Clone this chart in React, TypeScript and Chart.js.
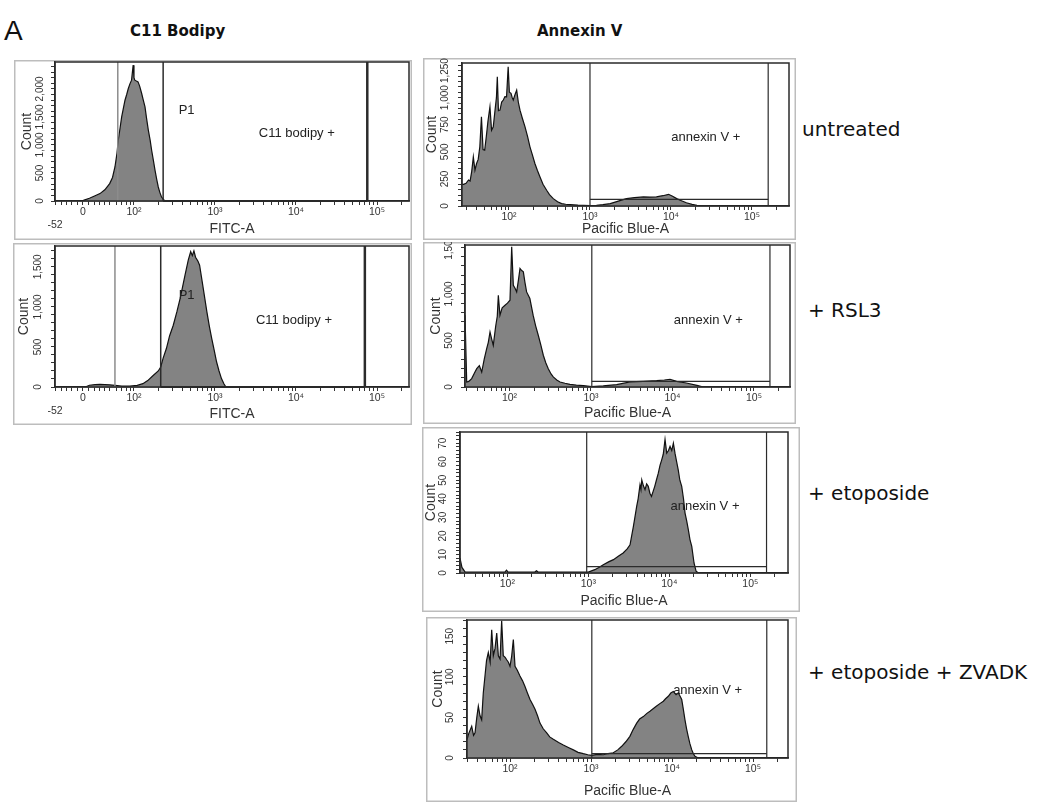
import React, { useEffect, useRef } from 'react';
import { Chart, registerables } from 'chart.js';

Chart.register(...registerables);

const FONT = '"Liberation Sans", Arial, Helvetica, sans-serif';
const LABEL_FONT = '"DejaVu Sans", Verdana, sans-serif';

// ---------- data: x = display position in decades (10^x), y = count ----------
const c11UntreatedPos = [1.025, 1.30, 1.375, 1.45, 1.52, 1.58, 1.64, 1.70, 1.735, 1.765, 1.79, 1.806, 1.83, 1.848, 1.87, 1.889, 1.91, 1.93, 1.95, 1.97, 1.99, 2.00, 2.01, 2.03, 2.05, 2.07, 2.095, 2.115, 2.136, 2.155, 2.177, 2.20, 2.218, 2.24, 2.26, 2.28, 2.30, 2.32, 2.34, 2.38, 2.45, 5.395];
const c11UntreatedCount = [0, 0, 12, 50, 95, 132, 200, 310, 420, 607, 850, 1084, 1320, 1500, 1660, 1798, 1900, 2007, 2090, 2156, 2424, 2200, 2156, 2140, 2125, 2050, 1918, 1800, 1679, 1480, 1263, 1080, 905, 720, 548, 390, 250, 150, 71, 0, 0, 0];

const c11Rsl3Pos = [1.025, 1.40, 1.45, 1.52, 1.58, 1.64, 1.70, 1.765, 1.85, 1.95, 2.04, 2.11, 2.17, 2.24, 2.30, 2.33, 2.36, 2.40, 2.44, 2.485, 2.53, 2.57, 2.60, 2.63, 2.67, 2.70, 2.72, 2.74, 2.76, 2.79, 2.81, 2.855, 2.90, 2.93, 2.96, 2.99, 3.02, 3.05, 3.08, 3.11, 3.135, 5.395];
const c11Rsl3Count = [0, 0, 22, 30, 32, 30, 27, 20, 10, 12, 20, 42, 80, 146, 200, 250, 360, 480, 640, 771, 940, 1105, 1250, 1396, 1584, 1690, 1640, 1700, 1620, 1570, 1521, 1230, 938, 760, 605, 460, 312, 200, 105, 40, 0, 0];

const annexinUntreatedPos = [1.42, 1.44, 1.47, 1.50, 1.52, 1.54, 1.56, 1.58, 1.60, 1.62, 1.64, 1.66, 1.68, 1.70, 1.72, 1.74, 1.765, 1.785, 1.806, 1.83, 1.845, 1.856, 1.87, 1.889, 1.91, 1.93, 1.95, 1.97, 1.99, 2.005, 2.025, 2.04, 2.053, 2.075, 2.095, 2.115, 2.136, 2.165, 2.198, 2.23, 2.259, 2.29, 2.32, 2.35, 2.383, 2.42, 2.465, 2.50, 2.547, 2.60, 2.65, 2.70, 2.753, 2.85, 2.92, 3.0, 3.08, 3.16, 3.25, 3.35, 3.45, 3.55, 3.66, 3.74, 3.82, 3.90, 3.97, 4.02, 4.07, 4.13, 4.19, 4.26, 4.32, 4.40, 5.457];
const annexinUntreatedCount = [200, 200, 210, 240, 230, 320, 453, 330, 392, 430, 546, 823, 520, 515, 640, 780, 916, 700, 731, 900, 1000, 1193, 880, 885, 960, 978, 1010, 1008, 1286, 1050, 1040, 1000, 978, 1030, 1070, 960, 885, 810, 731, 640, 546, 470, 392, 330, 268, 200, 145, 105, 68, 40, 22, 16, 13, 8, 6, 3, 6, 12, 22, 45, 68, 78, 84, 82, 84, 95, 108, 90, 68, 48, 30, 15, 6, 0, 0];

const annexinRsl3Pos = [1.454, 1.462, 1.475, 1.50, 1.536, 1.57, 1.598, 1.63, 1.659, 1.69, 1.72, 1.74, 1.761, 1.78, 1.801, 1.83, 1.85, 1.863, 1.883, 1.91, 1.945, 1.975, 2.006, 2.027, 2.047, 2.068, 2.088, 2.11, 2.129, 2.15, 2.17, 2.19, 2.21, 2.25, 2.29, 2.32, 2.353, 2.385, 2.415, 2.445, 2.476, 2.51, 2.537, 2.58, 2.62, 2.68, 2.742, 2.82, 2.906, 3.008, 3.15, 3.315, 3.48, 3.64, 3.806, 3.90, 3.97, 4.05, 4.17, 4.30, 4.38, 5.442];
const annexinRsl3Count = [771, 771, 54, 60, 90, 150, 197, 230, 161, 300, 412, 480, 591, 520, 448, 650, 760, 986, 771, 850, 878, 900, 932, 1505, 1093, 1060, 1021, 1150, 1273, 1250, 1237, 1120, 1021, 950, 771, 660, 556, 450, 341, 260, 197, 140, 108, 75, 54, 40, 29, 20, 15, 5, 12, 25, 54, 61, 68, 75, 83, 61, 43, 18, 0, 0];

const annexinEtoPos = [1.416, 1.425, 1.44, 1.48, 1.70, 1.97, 1.99, 2.01, 2.05, 2.34, 2.36, 2.38, 2.42, 2.8, 3.0, 3.08, 3.13, 3.185, 3.25, 3.31, 3.37, 3.43, 3.48, 3.515, 3.535, 3.556, 3.575, 3.597, 3.615, 3.638, 3.65, 3.66, 3.68, 3.70, 3.72, 3.74, 3.76, 3.78, 3.80, 3.82, 3.84, 3.864, 3.885, 3.906, 3.925, 3.947, 3.968, 3.99, 4.009, 4.03, 4.05, 4.07, 4.09, 4.11, 4.13, 4.153, 4.175, 4.194, 4.215, 4.235, 4.255, 4.277, 4.305, 4.33, 4.36, 5.465];
const annexinEtoCount = [8, 8, 3, 0.5, 0.5, 0.5, 1.5, 0.5, 0.5, 0.5, 1.2, 0.5, 0.5, 0.5, 0.5, 1.8, 3, 4.5, 6, 7.2, 9, 10.8, 13, 15.2, 20, 25, 30, 35.9, 40, 47.5, 45, 50.2, 47, 44.9, 48, 46.7, 43, 41.3, 44, 46.7, 50, 53.8, 58, 61, 64, 72, 64.6, 66, 68.2, 66, 70, 64.6, 60, 55.6, 50, 46.7, 40, 32.3, 28, 23.3, 18, 14.3, 5.4, 1, 0, 0];

const annexinEtoZvadPos = [1.469, 1.49, 1.527, 1.55, 1.568, 1.59, 1.609, 1.63, 1.65, 1.67, 1.691, 1.71, 1.732, 1.755, 1.774, 1.794, 1.815, 1.836, 1.856, 1.877, 1.897, 1.917, 1.94, 1.959, 1.98, 2.0, 2.02, 2.041, 2.062, 2.09, 2.123, 2.155, 2.185, 2.215, 2.247, 2.28, 2.309, 2.34, 2.37, 2.41, 2.453, 2.49, 2.535, 2.6, 2.658, 2.72, 2.782, 2.84, 2.905, 2.96, 3.008, 3.08, 3.152, 3.21, 3.275, 3.33, 3.379, 3.43, 3.48, 3.52, 3.564, 3.60, 3.646, 3.69, 3.728, 3.77, 3.81, 3.85, 3.893, 3.92, 3.954, 3.985, 4.016, 4.05, 4.078, 4.10, 4.12, 4.14, 4.16, 4.18, 4.2, 4.22, 4.243, 4.265, 4.284, 4.325, 5.432];
const annexinEtoZvadCount = [22.6, 30, 39, 28, 31, 50, 64, 52, 47, 80, 101, 120, 130, 118, 158, 126, 135, 154, 126, 122, 169, 126, 124, 121, 118, 113, 125, 146, 113, 108, 101, 95, 88, 80, 72, 66, 60, 52, 43, 36, 31, 26, 23, 19, 16, 13, 10, 7, 5.3, 4, 3.3, 4.5, 4, 5.5, 6.5, 10, 14.4, 20, 26.7, 35, 43, 48, 51, 55, 57.6, 61, 64, 67, 70, 73, 76, 80, 82, 78, 80, 76, 72, 60, 47, 36, 26.7, 18, 10.3, 5, 2, 0, 0];

// ---------- axis ticks ----------
const c11MajorPos = [1.025, 1.37, 2, 3, 4, 5];
const c11MajorLabels: (string | string[])[] = [['', '-52'], '0', '10²', '10³', '10⁴', '10⁵'];
const c11LinearMinorPos = [1.11, 1.17, 1.23, 1.30, 1.44, 1.51, 1.58, 1.64, 1.70];
const annexinMajorPos = [2, 3, 4, 5];
const annexinMajorLabels = ['10²', '10³', '10⁴', '10⁵'];
const logMinorMantissa = [2, 3, 4, 5, 6, 7, 8, 9];

const yTicksC11Untreated = [0, 500, 1000, 1500, 2000];
const yLabelsC11Untreated = ['0', '500', '1,000', '1,500', '2,000'];
const yTicksC11Rsl3 = [0, 500, 1000, 1500];
const yLabelsC11Rsl3 = ['0', '500', '1,000', '1,500'];
const yTicksAnxUntreated = [0, 250, 500, 750, 1000, 1250];
const yLabelsAnxUntreated = ['0', '250', '500', '750', '1,000', '1,250'];
const yTicksAnxRsl3 = [0, 500, 1000, 1500];
const yLabelsAnxRsl3 = ['0', '500', '1,000', '1,500'];
const yTicksAnxEto = [0, 10, 20, 30, 40, 50, 60, 70];
const yLabelsAnxEto = ['0', '10', '20', '30', '40', '50', '60', '70'];
const yTicksAnxEtoZvad = [0, 50, 100, 150];
const yLabelsAnxEtoZvad = ['0', '50', '100', '150'];

// ---------- gates ----------
type VLine = { x: number; color: string; w: number };
type HBar = { x0: number; x1: number; y: number; color: string; w: number };
type GText = { x: number; y: number; text: string };

const TICK_LEN = 4;

function measure(text: string, size: number) {
  const c = document.createElement('canvas').getContext('2d')!;
  c.font = `${size}px ${FONT}`;
  return c.measureText(text).width;
}

function buildXTicks(isC11: boolean, min: number, max: number) {
  const vals: number[] = [];
  const labels: (string | string[])[] = [];
  const majors = isC11 ? c11MajorPos : annexinMajorPos;
  const majorLabels = isC11 ? c11MajorLabels : annexinMajorLabels;
  majors.forEach((v, i) => { vals.push(v); labels.push(majorLabels[i]); });
  if (isC11) c11LinearMinorPos.forEach((v) => { vals.push(v); labels.push(''); });
  for (let k = 1; k <= 5; k++) {
    for (const m of logMinorMantissa) {
      const v = k + Math.log10(m);
      if (v > min && v < max && (!isC11 || v > 1.75)) { vals.push(v); labels.push(''); }
    }
  }
  const order = vals.map((_, i) => i).sort((a, b) => vals[a] - vals[b]);
  return { vals: order.map((i) => vals[i]), labels: order.map((i) => labels[i]) };
}

function buildYTicks(majors: number[], majorLabels: string[], minorStep: number, max: number) {
  const vals: number[] = [];
  const labels: string[] = [];
  for (let v = 0; v <= max + 1e-9; v += minorStep) {
    const r = Math.round(v * 1000) / 1000;
    const idx = majors.indexOf(r);
    vals.push(r);
    labels.push(idx >= 0 ? majorLabels[idx] : '');
  }
  return { vals, labels };
}

type Rect = { l: number; t: number; r: number; b: number };
type PanelCfg = {
  key: string;
  outer: Rect;
  plot: Rect;
  xMin: number;
  xMax: number;
  isC11: boolean;
  xTitle: string;
  yMax: number;
  yMajor: number[];
  yMajorLabels: string[];
  yMinorStep: number;
  pos: number[];
  count: number[];
  countX: number;
  yLabelOffset: number;
  vlines: VLine[];
  hbars: HBar[];
  texts: GText[];
};

const GATE = '#2b2b2b';
const PANELS: PanelCfg[] = [
  {
    key: 'c11-untreated', outer: { l: 14, t: 60, r: 412, b: 240 }, plot: { l: 55, t: 62, r: 409, b: 201 },
    xMin: 1.025, xMax: 5.395, isC11: true, xTitle: 'FITC-A', yMax: 2480,
    yMajor: yTicksC11Untreated, yMajorLabels: yLabelsC11Untreated, yMinorStep: 100,
    pos: c11UntreatedPos, count: c11UntreatedCount, countX: 27, yLabelOffset: 15,
    vlines: [{ x: 1.80, color: '#8c8c8c', w: 1.5 }, { x: 2.36, color: GATE, w: 1.5 }, { x: 4.88, color: GATE, w: 2.5 }],
    hbars: [{ x0: 2.36, x1: 4.88, y: 0, color: GATE, w: 2 }],
    texts: [{ x: 2.65, y: 1620, text: 'P1' }, { x: 4.01, y: 1209, text: 'C11 bodipy +' }],
  },
  {
    key: 'c11-rsl3', outer: { l: 13, t: 243, r: 412, b: 425 }, plot: { l: 55, t: 246, r: 409, b: 387 },
    xMin: 1.025, xMax: 5.395, isC11: true, xTitle: 'FITC-A', yMax: 1760,
    yMajor: yTicksC11Rsl3, yMajorLabels: yLabelsC11Rsl3, yMinorStep: 100,
    pos: c11Rsl3Pos, count: c11Rsl3Count, countX: 24, yLabelOffset: 17,
    vlines: [{ x: 1.765, color: '#8c8c8c', w: 1.5 }, { x: 2.33, color: GATE, w: 1.5 }, { x: 4.85, color: GATE, w: 2.5 }],
    hbars: [{ x0: 2.33, x1: 4.85, y: 0, color: GATE, w: 2 }],
    texts: [{ x: 2.65, y: 1146, text: 'P1' }, { x: 3.975, y: 834, text: 'C11 bodipy +' }],
  },
  {
    key: 'anx-untreated', outer: { l: 423, t: 58, r: 796, b: 240 }, plot: { l: 462, t: 63, r: 789, b: 206 },
    xMin: 1.42, xMax: 5.457, isC11: false, xTitle: 'Pacific Blue-A', yMax: 1320,
    yMajor: yTicksAnxUntreated, yMajorLabels: yLabelsAnxUntreated, yMinorStep: 50,
    pos: annexinUntreatedPos, count: annexinUntreatedCount, countX: 432, yLabelOffset: 17,
    vlines: [{ x: 3.0, color: GATE, w: 1.2 }, { x: 5.2, color: GATE, w: 1.2 }],
    hbars: [{ x0: 3.0, x1: 5.2, y: 62, color: GATE, w: 1.2 }],
    texts: [{ x: 4.43, y: 636, text: 'annexin V +' }],
  },
  {
    key: 'anx-rsl3', outer: { l: 423, t: 242, r: 796, b: 424 }, plot: { l: 465, t: 245, r: 790, b: 387 },
    xMin: 1.454, xMax: 5.442, isC11: false, xTitle: 'Pacific Blue-A', yMax: 1525,
    yMajor: yTicksAnxRsl3, yMajorLabels: yLabelsAnxRsl3, yMinorStep: 100,
    pos: annexinRsl3Pos, count: annexinRsl3Count, countX: 436, yLabelOffset: 16,
    vlines: [{ x: 3.01, color: GATE, w: 1.2 }, { x: 5.196, color: GATE, w: 1.2 }],
    hbars: [{ x0: 3.01, x1: 5.196, y: 61, color: GATE, w: 1.2 }],
    texts: [{ x: 4.44, y: 717, text: 'annexin V +' }],
  },
  {
    key: 'anx-eto', outer: { l: 422, t: 427, r: 800, b: 612 }, plot: { l: 460, t: 432, r: 788, b: 573 },
    xMin: 1.416, xMax: 5.465, isC11: false, xTitle: 'Pacific Blue-A', yMax: 76,
    yMajor: yTicksAnxEto, yMajorLabels: yLabelsAnxEto, yMinorStep: 2,
    pos: annexinEtoPos, count: annexinEtoCount, countX: 431, yLabelOffset: 17,
    vlines: [{ x: 2.98, color: GATE, w: 1.2 }, { x: 5.2, color: GATE, w: 1.2 }],
    hbars: [{ x0: 2.98, x1: 5.2, y: 3.4, color: GATE, w: 1.2 }],
    texts: [{ x: 4.44, y: 36, text: 'annexin V +' }],
  },
  {
    key: 'anx-eto-zvad', outer: { l: 426, t: 617, r: 797, b: 802 }, plot: { l: 467, t: 620, r: 788, b: 758 },
    xMin: 1.469, xMax: 5.432, isC11: false, xTitle: 'Pacific Blue-A', yMax: 170,
    yMajor: yTicksAnxEtoZvad, yMajorLabels: yLabelsAnxEtoZvad, yMinorStep: 10,
    pos: annexinEtoZvadPos, count: annexinEtoZvadCount, countX: 438, yLabelOffset: 17,
    vlines: [{ x: 3.01, color: GATE, w: 1.2 }, { x: 5.17, color: GATE, w: 1.2 }],
    hbars: [{ x0: 3.01, x1: 5.17, y: 5.3, color: GATE, w: 1.2 }],
    texts: [{ x: 4.44, y: 83, text: 'annexin V +' }],
  },
];

const decorPlugin = {
  id: 'decor',
  beforeDraw(chart: any) {
    const { ctx, width, height } = chart;
    ctx.save();
    ctx.fillStyle = '#ffffff';
    ctx.fillRect(0, 0, width, height);
    ctx.strokeStyle = '#bdbdbd';
    ctx.lineWidth = 1.5;
    ctx.strokeRect(0.75, 0.75, width - 1.5, height - 1.5);
    ctx.restore();
  },
  afterDatasetsDraw(chart: any, _a: any, opts: any) {
    const { ctx, chartArea: ca, scales } = chart;
    const x = scales.x;
    const y = scales.y;
    ctx.save();
    for (const v of opts.vlines as VLine[]) {
      const px = x.getPixelForValue(v.x);
      ctx.strokeStyle = v.color;
      ctx.lineWidth = v.w;
      ctx.beginPath();
      ctx.moveTo(px, ca.top);
      ctx.lineTo(px, ca.bottom);
      ctx.stroke();
    }
    for (const h of opts.hbars as HBar[]) {
      const py = y.getPixelForValue(h.y);
      ctx.strokeStyle = h.color;
      ctx.lineWidth = h.w;
      ctx.beginPath();
      ctx.moveTo(x.getPixelForValue(h.x0), py);
      ctx.lineTo(x.getPixelForValue(h.x1), py);
      ctx.stroke();
    }
    ctx.fillStyle = '#222';
    ctx.font = `13px ${FONT}`;
    ctx.textAlign = 'center';
    ctx.textBaseline = 'middle';
    for (const t of opts.texts as GText[]) {
      ctx.fillText(t.text, x.getPixelForValue(t.x), y.getPixelForValue(t.y));
    }
    ctx.strokeStyle = '#2a2a2a';
    ctx.lineWidth = 1.5;
    ctx.strokeRect(ca.left, ca.top, ca.right - ca.left, ca.bottom - ca.top);
    ctx.restore();
  },
};

function Panel({ cfg }: { cfg: PanelCfg }) {
  const ref = useRef<HTMLCanvasElement | null>(null);
  const W = cfg.outer.r - cfg.outer.l;
  const H = cfg.outer.b - cfg.outer.t;
  useEffect(() => {
    if (!ref.current) return;
    const xt = buildXTicks(cfg.isC11, cfg.xMin, cfg.xMax);
    const yt = buildYTicks(cfg.yMajor, cfg.yMajorLabels, cfg.yMinorStep, cfg.yMax);
    const yFont = 10;
    const widest = Math.max(...cfg.yMajorLabels.map((s) => measure(s, yFont)));
    const yPad = cfg.yLabelOffset - TICK_LEN - widest / 2;
    const titleLH = 14 * 1.2;
    const titleTop = cfg.countX - cfg.outer.l - titleLH / 2;
    const chart = new Chart(ref.current, {
      type: 'line',
      data: {
        datasets: [
          {
            data: cfg.pos.map((p, i) => ({ x: p, y: cfg.count[i] })),
            fill: 'origin',
            backgroundColor: '#838383',
            borderColor: '#111111',
            borderWidth: 1.2,
            pointRadius: 0,
            tension: 0,
          },
        ],
      },
      options: {
        responsive: false,
        maintainAspectRatio: false,
        animation: false,
        devicePixelRatio: 1,
        layout: { padding: { left: 0, top: cfg.plot.t - cfg.outer.t, right: cfg.outer.r - cfg.plot.r, bottom: 0 } },
        plugins: {
          legend: { display: false },
          tooltip: { enabled: false },
          decor: { vlines: cfg.vlines, hbars: cfg.hbars, texts: cfg.texts },
        } as any,
        scales: {
          x: {
            type: 'linear',
            min: cfg.xMin,
            max: cfg.xMax,
            afterBuildTicks: (s: any) => { s.ticks = xt.vals.map((v) => ({ value: v })); },
            afterFit: (s: any) => { s.height = cfg.outer.b - cfg.plot.b; s.paddingLeft = 0; s.paddingRight = 0; },
            ticks: {
              autoSkip: false, maxRotation: 0, minRotation: 0, padding: 1, color: '#333',
              font: { family: FONT, size: 10.5 },
              callback: (_v: any, i: number) => xt.labels[i],
            },
            grid: { drawOnChartArea: false, drawTicks: true, tickLength: TICK_LEN, color: '#333', lineWidth: 1 },
            border: { display: true, color: '#2a2a2a', width: 1.5 },
            title: { display: true, text: cfg.xTitle, color: '#333', font: { family: FONT, size: 14 }, padding: { top: 0, bottom: 2 } },
          },
          y: {
            type: 'linear',
            min: 0,
            max: cfg.yMax,
            afterBuildTicks: (s: any) => { s.ticks = yt.vals.map((v) => ({ value: v })); },
            afterFit: (s: any) => { s.width = cfg.plot.l - cfg.outer.l; s.paddingTop = 0; s.paddingBottom = 0; },
            ticks: {
              autoSkip: false, minRotation: 90, maxRotation: 90, crossAlign: 'center', padding: yPad, color: '#333',
              font: { family: FONT, size: yFont },
              callback: (_v: any, i: number) => yt.labels[i],
            },
            grid: { drawOnChartArea: false, drawTicks: true, tickLength: TICK_LEN, color: '#333', lineWidth: 1 },
            border: { display: true, color: '#2a2a2a', width: 1.5 },
            title: { display: true, text: 'Count', color: '#333', font: { family: FONT, size: 14 }, padding: { top: titleTop, bottom: 0 } },
          },
        },
      } as any,
      plugins: [decorPlugin],
    });
    return () => chart.destroy();
  }, [cfg]);
  return (
    <canvas
      ref={ref}
      width={W}
      height={H}
      style={{ position: 'absolute', left: cfg.outer.l, top: cfg.outer.t, width: W, height: H, display: 'block' }}
    />
  );
}

const headerStyle: React.CSSProperties = {
  position: 'absolute', fontFamily: LABEL_FONT, fontWeight: 'bold', fontSize: 15, lineHeight: '15px', color: '#111', whiteSpace: 'nowrap',
};
const sideStyle: React.CSSProperties = {
  position: 'absolute', fontFamily: LABEL_FONT, fontSize: 20, lineHeight: '20px', color: '#111', whiteSpace: 'nowrap',
};

export default function App() {
  return (
    <div style={{ position: 'fixed', left: 0, top: 0, width: 1048, height: 803, background: '#fff', overflow: 'hidden' }}>
      <div style={{ position: 'absolute', left: 4, top: 17, fontFamily: FONT, fontSize: 28, lineHeight: '28px', color: '#111' }}>A</div>
      <div style={{ ...headerStyle, left: 130, top: 24 }}>C11 Bodipy</div>
      <div style={{ ...headerStyle, left: 537, top: 24 }}>Annexin V</div>
      {PANELS.map((p) => (
        <Panel key={p.key} cfg={p} />
      ))}
      <div style={{ ...sideStyle, left: 802, top: 119 }}>untreated</div>
      <div style={{ ...sideStyle, left: 808, top: 300 }}>+ RSL3</div>
      <div style={{ ...sideStyle, left: 808, top: 483 }}>+ etoposide</div>
      <div style={{ ...sideStyle, left: 808, top: 662 }}>+ etoposide + ZVADK</div>
    </div>
  );
}
